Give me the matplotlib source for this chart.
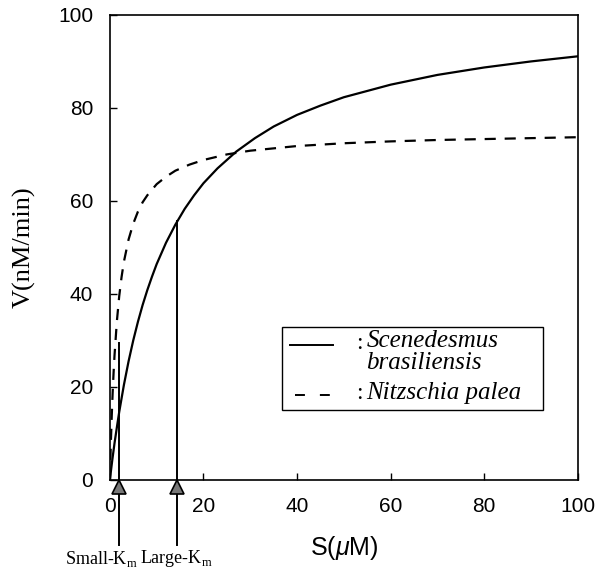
import matplotlib
matplotlib.use("Agg")
import matplotlib.pyplot as plt
from matplotlib.patches import Rectangle

plt.rcParams['mathtext.fontset'] = 'custom'
plt.rcParams['mathtext.rm'] = 'Liberation Serif'
plt.rcParams['mathtext.it'] = 'Liberation Sans:italic'

# Values
s_solid = [0, 0.5, 1, 1.5, 2, 3, 4, 5, 6, 7, 8, 9, 10, 12, 14, 16, 18, 20, 23, 27,
           31, 35, 40, 45, 50, 60, 70, 80, 90, 100]
v_solid = [0, 4.1, 7.9, 11.3, 14.6, 20.4, 25.5, 30.0, 34.0, 37.6, 40.8, 43.7, 46.4,
           51.0, 54.9, 58.3, 61.2, 63.8, 67.0, 70.6, 73.5, 76.0, 78.5, 80.5, 82.3,
           85.0, 87.1, 88.7, 90.0, 91.1]

s_dash = [0, 0.2, 0.4, 0.6, 0.8, 1, 1.5, 2, 2.5, 3, 4, 5, 6, 7, 8, 10, 12, 14, 17,
          20, 25, 30, 40, 50, 60, 70, 80, 90, 100]
v_dash = [0, 7.5, 13.6, 18.8, 23.1, 26.8, 34.1, 39.5, 43.6, 46.9, 51.7, 55.1, 57.7,
          59.7, 61.2, 63.6, 65.2, 66.5, 67.8, 68.8, 70.0, 70.8, 71.8, 72.4, 72.8,
          73.1, 73.3, 73.5, 73.7]

km_pos = [1.9, 14.3]
km_top = [29.5, 55.7]
km_text_x = [-1.9, 14.3]
km_labels = [r'Small-K$_{\mathrm{m}}$', r'Large-K$_{\mathrm{m}}$']

xticks = [0, 20, 40, 60, 80, 100]
yticks = [0, 20, 40, 60, 80, 100]

fig = plt.figure(figsize=(5.97, 5.74), dpi=100)
ax = fig.add_axes([0.184, 0.164, 0.784, 0.810])

ax.plot(s_solid, v_solid, color='black', lw=1.6)
ax.plot(s_dash, v_dash, color='black', lw=1.6, dashes=(5, 4))

# Km markers below the axis
for x, top, tx, lab in zip(km_pos, km_top, km_text_x, km_labels):
    ax.plot([x, x], [-14, top], color='black', lw=1.4, clip_on=False)
    ax.plot(x, -1.5, marker='^', ms=10, mfc='#777777', mec='black', mew=1.2,
            clip_on=False, zorder=5)
    ax.text(tx, -17.0, lab, ha='center', va='center', fontsize=13,
            family='Liberation Serif', clip_on=False)

ax.set_xlim(0, 100)
ax.set_ylim(0, 100)
ax.set_xticks(xticks)
ax.set_yticks(yticks)
ax.tick_params(direction='in', length=5, width=1, labelsize=15, pad=12)
for lab in ax.get_xticklabels() + ax.get_yticklabels():
    lab.set_family('Liberation Sans')
for sp in ax.spines.values():
    sp.set_linewidth(1.2)

ax.set_xlabel(r'S($\mu$M)', fontsize=18, family='Liberation Sans', labelpad=13)
ax.set_ylabel('V(nM/min)', fontsize=19, family='Liberation Serif', labelpad=16)

# hand-built legend box
t = ax.transAxes
ax.add_patch(Rectangle((0.3675, 0.1505), 0.5575, 0.1785, transform=t,
                       fill=False, ec='black', lw=1))
ax.plot([0.385, 0.476], [0.290, 0.290], transform=t, color='black', lw=1.4)
ax.plot([0.395, 0.470], [0.183, 0.183], transform=t, color='black', lw=1.4,
        dashes=(5.1, 7.7))
ax.text(0.527, 0.293, ':', transform=t, fontsize=17, family='Liberation Serif', va='center')
ax.text(0.527, 0.186, ':', transform=t, fontsize=17, family='Liberation Serif', va='center')
ax.text(0.548, 0.298, 'Scenedesmus', transform=t, fontsize=18, family='Liberation Serif',
        style='italic', va='center')
ax.text(0.548, 0.252, 'brasiliensis', transform=t, fontsize=18, family='Liberation Serif',
        style='italic', va='center')
ax.text(0.548, 0.186, 'Nitzschia palea', transform=t, fontsize=18, family='Liberation Serif',
        style='italic', va='center')

fig.savefig('out.png', dpi=100)
